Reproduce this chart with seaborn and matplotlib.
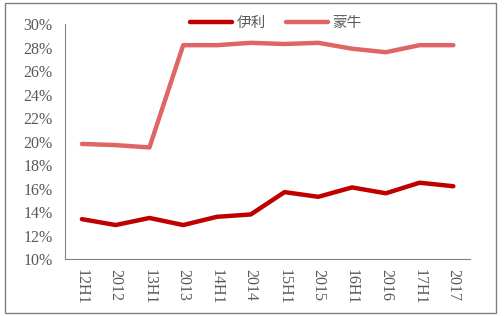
import matplotlib
matplotlib.use("Agg")
import matplotlib.pyplot as plt
import seaborn as sns
import pandas as pd
from matplotlib.patches import Rectangle

categories = ["12H1", "2012", "13H1", "2013", "14H1", "2014",
              "15H1", "2015", "16H1", "2016", "17H1", "2017"]
yili = [13.4, 12.9, 13.5, 12.9, 13.6, 13.8, 15.7, 15.3, 16.1, 15.6, 16.5, 16.2]
mengniu = [19.8, 19.7, 19.5, 28.2, 28.2, 28.4, 28.3, 28.4, 27.9, 27.6, 28.2, 28.2]
series_names = ["伊利", "蒙牛"]
yticks = [10, 12, 14, 16, 18, 20, 22, 24, 26, 28, 30]

sns.set_style("white")
plt.rcParams['font.family'] = ['Liberation Serif', 'Noto Sans CJK SC', 'DejaVu Sans']

df = pd.DataFrame({
    "pos": list(range(len(categories))) * 2,
    "value": yili + mengniu,
    "series": [series_names[0]] * len(yili) + [series_names[1]] * len(mengniu),
})

fig = plt.figure(figsize=(5.04, 3.16), dpi=100)
ax = fig.add_axes([0.129, 0.180, 0.804, 0.744])

palette = {"伊利": "#C00000", "蒙牛": "#E06666"}
sns.lineplot(data=df, x="pos", y="value", hue="series", palette=palette,
             linewidth=3.2, ax=ax, legend=True)

ax.set_xlim(-0.5, len(categories) - 0.5)
ax.set_ylim(10, 30)
ax.set_yticks(yticks)
ax.set_yticklabels([f"{t}%" for t in yticks])
ax.set_xticks(range(len(categories)))
ax.set_xticklabels(categories, rotation=-90)
ax.set_xticks([i - 0.5 for i in range(len(categories) + 1)], minor=True)
ax.tick_params(axis="x", which="major", length=0, pad=7, labelsize=11.5, colors="#595959")
ax.tick_params(axis="x", which="minor", length=4, width=0.8, color="#808080", direction="out")
ax.tick_params(axis="y", length=4, width=0.8, color="#808080", direction="out",
               labelsize=11.5, labelcolor="#595959", pad=5)
ax.set_xlabel("")
ax.set_ylabel("")
for s in ["top", "right"]:
    ax.spines[s].set_visible(False)
for s in ["left", "bottom"]:
    ax.spines[s].set_color("#808080")
    ax.spines[s].set_linewidth(0.8)

leg = ax.legend(loc="upper center", bbox_to_anchor=(0.52, 1.09), ncol=2, frameon=False,
                handlelength=2.9, columnspacing=1.4, handletextpad=0.3,
                prop={"family": ["Noto Sans CJK SC"], "size": 10.5, "weight": "light"})
for t in leg.get_texts():
    t.set_color("#595959")
for l in leg.get_lines():
    l.set_linewidth(3.2)

fig.patches.append(Rectangle((5 / 504, 3 / 316), 491 / 504, 310 / 316,
                             transform=fig.transFigure, fill=False,
                             edgecolor="#808080", linewidth=1.0))

fig.savefig("out.png", dpi=100)
